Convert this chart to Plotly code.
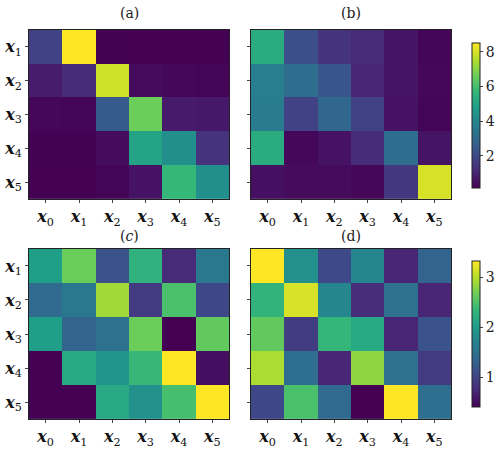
import plotly.graph_objects as go

x_cats = [0, 1, 2, 3, 4, 5]
y_cats = [1, 2, 3, 4, 5]
x_ticktext = ["<b><i>x</i></b><sub>%d</sub>" % i for i in x_cats]
y_ticktext = ["<b><i>x</i></b><sub>%d</sub>" % i for i in y_cats]
titles = ["(a)", "(b)", "(<i>c</i>)", "(d)"]

z_a = [
    [1.8, 8.5, 0.18, 0.16, 0.15, 0.15],
    [0.8, 1.2, 7.9, 0.4, 0.3, 0.22],
    [0.3, 0.25, 2.5, 6.6, 0.75, 0.7],
    [0.18, 0.18, 0.4, 5.0, 4.3, 1.4],
    [0.16, 0.16, 0.22, 0.55, 5.7, 4.3],
]
z_b = [
    [5.3, 2.2, 1.4, 1.15, 0.6, 0.25],
    [3.7, 3.1, 2.4, 1.0, 0.6, 0.3],
    [3.6, 1.8, 2.9, 1.8, 0.55, 0.25],
    [5.3, 0.3, 0.55, 1.2, 3.1, 0.6],
    [0.5, 0.4, 0.4, 0.3, 1.5, 8.0],
]
z_c = [
    [2.04, 2.65, 1.13, 2.27, 0.75, 1.57],
    [1.4, 1.57, 2.9, 0.9, 2.47, 1.04],
    [2.04, 1.33, 1.48, 2.65, 0.4, 2.6],
    [0.4, 2.15, 1.92, 2.35, 3.32, 0.52],
    [0.4, 0.4, 2.15, 1.86, 2.45, 3.32],
]
z_d = [
    [3.32, 1.86, 1.05, 1.74, 0.7, 1.33],
    [2.3, 3.15, 1.74, 0.78, 1.48, 0.7],
    [2.6, 0.93, 2.33, 2.15, 0.7, 1.16],
    [2.95, 1.45, 0.7, 2.82, 1.48, 0.9],
    [1.04, 2.47, 1.4, 0.4, 3.32, 1.45],
]
top_range = [0.15, 8.5]
top_ticks = [2, 4, 6, 8]
bot_range = [0.4, 3.32]
bot_ticks = [1, 2, 3]

W, H = 500, 449
def px_x(v): return v / W
def px_y(v): return 1 - v / H

fig = go.Figure()
panels = [
    (z_a, (29, 229), (30, 200), top_range, False, 7),
    (z_b, (251, 451), (30, 200), top_range, True, 7),
    (z_c, (29, 229), (250, 421), bot_range, False, 3),
    (z_d, (251, 451), (250, 421), bot_range, True, 3),
]
serif = "DejaVu Serif"
for i, (z, xd, yd, rng, cb, tgap) in enumerate(panels):
    n = "" if i == 0 else str(i + 1)
    tr = go.Heatmap(
        z=z, x=x_cats, y=y_cats, colorscale="Viridis", zmin=rng[0], zmax=rng[1],
        xaxis="x" + n, yaxis="y" + n, showscale=cb,
    )
    if cb:
        top = i == 1
        y0, y1 = (43, 189) if top else (262, 409)
        tr.colorbar = dict(
            x=px_x(472), xanchor="left", thickness=8, thicknessmode="pixels",
            len=(y1 - y0) / H, lenmode="fraction", y=px_y((y0 + y1) / 2), yanchor="middle",
            outlinewidth=1, outlinecolor="#222", xpad=0, ypad=0,
            tickvals=top_ticks if top else bot_ticks, ticks="outside", ticklen=3,
            tickfont=dict(family=serif, size=14, color="#222"),
        )
    fig.add_trace(tr)
    fig.layout["xaxis" + n] = dict(
        domain=[px_x(xd[0]), px_x(xd[1])], anchor="y" + n,
        tickvals=x_cats, ticktext=x_ticktext, ticks="outside", ticklen=3,
        tickfont=dict(family=serif, size=16, color="#111"),
        showline=True, mirror=True, linecolor="#222", linewidth=1, showgrid=False,
        zeroline=False, range=[-0.5, 5.5],
    )
    fig.layout["yaxis" + n] = dict(
        domain=[px_y(yd[1]), px_y(yd[0])], anchor="x" + n,
        tickvals=y_cats, ticktext=y_ticktext if not cb else [""] * 5,
        ticks="outside", ticklen=3,
        tickfont=dict(family=serif, size=16, color="#111"),
        showline=True, mirror=True, linecolor="#222", linewidth=1, showgrid=False,
        zeroline=False, range=[5.5, 0.5],
    )
    fig.add_annotation(
        text=titles[i], x=px_x((xd[0] + xd[1]) / 2), y=px_y(yd[0] - tgap),
        xref="paper", yref="paper", xanchor="center", yanchor="bottom", showarrow=False,
        font=dict(family=serif, size=14, color="#222"),
    )

fig.update_layout(
    width=W, height=H, margin=dict(l=0, r=0, t=0, b=0),
    paper_bgcolor="white", plot_bgcolor="white", showlegend=False,
)
fig.write_html("out.html")
